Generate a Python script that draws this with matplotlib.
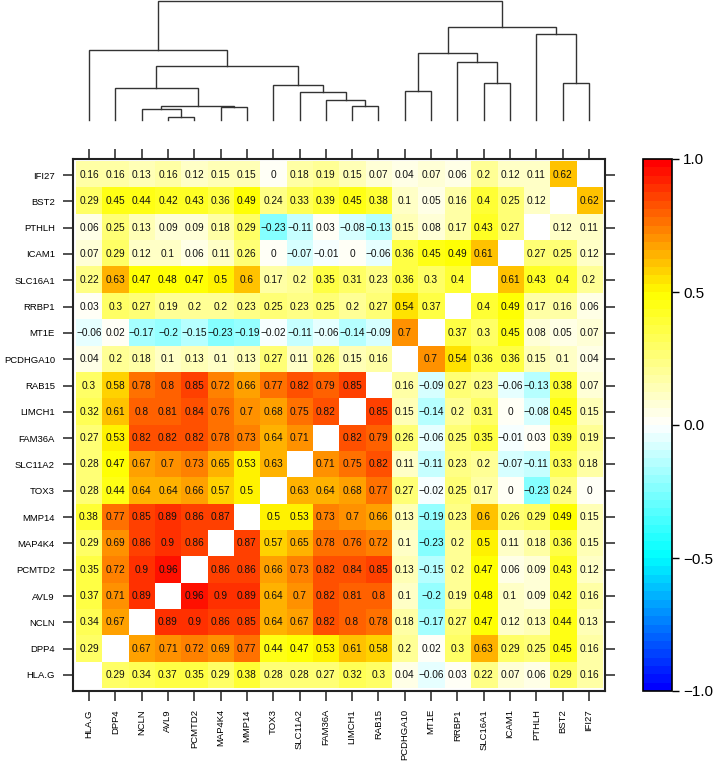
import matplotlib
matplotlib.use("Agg")
import matplotlib.pyplot as plt
import numpy as np
from matplotlib.colors import LinearSegmentedColormap

plt.rcParams['font.family'] = ['Liberation Sans', 'DejaVu Sans']

# column order (left to right); rows are shown in reverse order (top = IFI27)
genes = ['HLA.G', 'DPP4', 'NCLN', 'AVL9', 'PCMTD2', 'MAP4K4', 'MMP14', 'TOX3',
         'SLC11A2', 'FAM36A', 'LIMCH1', 'RAB15', 'PCDHGA10', 'MT1E', 'RRBP1',
         'SLC16A1', 'ICAM1', 'PTHLH', 'BST2', 'IFI27']

na = np.nan
# correlation rows, same order as genes (row i = genes[i])
corr = [
    [na, 0.29, 0.34, 0.37, 0.35, 0.29, 0.38, 0.28, 0.28, 0.27, 0.32, 0.3, 0.04, -0.06, 0.03, 0.22, 0.07, 0.06, 0.29, 0.16],
    [0.29, na, 0.67, 0.71, 0.72, 0.69, 0.77, 0.44, 0.47, 0.53, 0.61, 0.58, 0.2, 0.02, 0.3, 0.63, 0.29, 0.25, 0.45, 0.16],
    [0.34, 0.67, na, 0.89, 0.9, 0.86, 0.85, 0.64, 0.67, 0.82, 0.8, 0.78, 0.18, -0.17, 0.27, 0.47, 0.12, 0.13, 0.44, 0.13],
    [0.37, 0.71, 0.89, na, 0.96, 0.9, 0.89, 0.64, 0.7, 0.82, 0.81, 0.8, 0.1, -0.2, 0.19, 0.48, 0.1, 0.09, 0.42, 0.16],
    [0.35, 0.72, 0.9, 0.96, na, 0.86, 0.86, 0.66, 0.73, 0.82, 0.84, 0.85, 0.13, -0.15, 0.2, 0.47, 0.06, 0.09, 0.43, 0.12],
    [0.29, 0.69, 0.86, 0.9, 0.86, na, 0.87, 0.57, 0.65, 0.78, 0.76, 0.72, 0.1, -0.23, 0.2, 0.5, 0.11, 0.18, 0.36, 0.15],
    [0.38, 0.77, 0.85, 0.89, 0.86, 0.87, na, 0.5, 0.53, 0.73, 0.7, 0.66, 0.13, -0.19, 0.23, 0.6, 0.26, 0.29, 0.49, 0.15],
    [0.28, 0.44, 0.64, 0.64, 0.66, 0.57, 0.5, na, 0.63, 0.64, 0.68, 0.77, 0.27, -0.02, 0.25, 0.17, 0, -0.23, 0.24, 0],
    [0.28, 0.47, 0.67, 0.7, 0.73, 0.65, 0.53, 0.63, na, 0.71, 0.75, 0.82, 0.11, -0.11, 0.23, 0.2, -0.07, -0.11, 0.33, 0.18],
    [0.27, 0.53, 0.82, 0.82, 0.82, 0.78, 0.73, 0.64, 0.71, na, 0.82, 0.79, 0.26, -0.06, 0.25, 0.35, -0.01, 0.03, 0.39, 0.19],
    [0.32, 0.61, 0.8, 0.81, 0.84, 0.76, 0.7, 0.68, 0.75, 0.82, na, 0.85, 0.15, -0.14, 0.2, 0.31, 0, -0.08, 0.45, 0.15],
    [0.3, 0.58, 0.78, 0.8, 0.85, 0.72, 0.66, 0.77, 0.82, 0.79, 0.85, na, 0.16, -0.09, 0.27, 0.23, -0.06, -0.13, 0.38, 0.07],
    [0.04, 0.2, 0.18, 0.1, 0.13, 0.1, 0.13, 0.27, 0.11, 0.26, 0.15, 0.16, na, 0.7, 0.54, 0.36, 0.36, 0.15, 0.1, 0.04],
    [-0.06, 0.02, -0.17, -0.2, -0.15, -0.23, -0.19, -0.02, -0.11, -0.06, -0.14, -0.09, 0.7, na, 0.37, 0.3, 0.45, 0.08, 0.05, 0.07],
    [0.03, 0.3, 0.27, 0.19, 0.2, 0.2, 0.23, 0.25, 0.23, 0.25, 0.2, 0.27, 0.54, 0.37, na, 0.4, 0.49, 0.17, 0.16, 0.06],
    [0.22, 0.63, 0.47, 0.48, 0.47, 0.5, 0.6, 0.17, 0.2, 0.35, 0.31, 0.23, 0.36, 0.3, 0.4, na, 0.61, 0.43, 0.4, 0.2],
    [0.07, 0.29, 0.12, 0.1, 0.06, 0.11, 0.26, 0, -0.07, -0.01, 0, -0.06, 0.36, 0.45, 0.49, 0.61, na, 0.27, 0.25, 0.12],
    [0.06, 0.25, 0.13, 0.09, 0.09, 0.18, 0.29, -0.23, -0.11, 0.03, -0.08, -0.13, 0.15, 0.08, 0.17, 0.43, 0.27, na, 0.12, 0.11],
    [0.29, 0.45, 0.44, 0.42, 0.43, 0.36, 0.49, 0.24, 0.33, 0.39, 0.45, 0.38, 0.1, 0.05, 0.16, 0.4, 0.25, 0.12, na, 0.62],
    [0.16, 0.16, 0.13, 0.16, 0.12, 0.15, 0.15, 0, 0.18, 0.19, 0.15, 0.07, 0.04, 0.07, 0.06, 0.2, 0.12, 0.11, 0.62, na],
]

# column dendrogram merges: (left, right, height); leaves 0..19, new clusters 20..
merges = [
    (3, 4, 10), (2, 20, 32), (5, 6, 38), (21, 22, 43), (1, 23, 97),
    (10, 11, 43), (9, 25, 62), (8, 26, 85), (7, 27, 106), (24, 28, 162),
    (0, 29, 212), (12, 13, 88), (15, 16, 112), (14, 32, 175), (31, 33, 203),
    (18, 19, 112), (17, 35, 259), (34, 36, 280), (30, 37, 360),
]

cbar_ticks = [-1.0, -0.5, 0.0, 0.5, 1.0]

mat = np.array(corr, dtype=float)
n = len(genes)

cmap = LinearSegmentedColormap.from_list(
    'bcwyr', ['#0000ff', '#00ffff', '#ffffff', '#ffff00', '#ff0000'], N=64)

fig = plt.figure(figsize=(7.2, 7.65), dpi=100)
W, H = 720.0, 765.0
hx0, hx1, hy0, hy1 = 73, 605, 159, 691

ax = fig.add_axes([hx0 / W, 1 - hy1 / H, (hx1 - hx0) / W, (hy1 - hy0) / H])
pad = 0.11
im = ax.imshow(mat, cmap=cmap, vmin=-1, vmax=1, origin='lower',
               aspect='auto', interpolation='nearest')
ax.set_xlim(-0.5 - pad, n - 0.5 + pad)
ax.set_ylim(-0.5 - pad, n - 0.5 + pad)

for i in range(n):
    for j in range(n):
        v = mat[i, j]
        if np.isnan(v):
            continue
        s = '{:g}'.format(v).replace('-', '\u2212')
        ax.text(j, i, s, ha='center', va='center', fontsize=7.3, color='#111111')

ax.set_xticks(range(n))
ax.set_yticks(range(n))
ax.set_xticklabels(genes, rotation=90, fontsize=6.8)
ax.set_yticklabels(genes, fontsize=6.8)
ax.tick_params(axis='both', direction='out', length=7, width=1.2,
               top=True, right=True, color='#333333')
ax.tick_params(axis='x', pad=6)
ax.tick_params(axis='y', pad=6)
for sp in ax.spines.values():
    sp.set_linewidth(1.5)
    sp.set_color('#222222')

# dendrogram on top
dx = fig.add_axes([hx0 / W, 1 - 120 / H, (hx1 - hx0) / W, 119 / H])
pos = {i: (float(i), 0.0) for i in range(n)}
for k, (a, b, h) in enumerate(merges):
    xa, ha = pos[a]
    xb, hb = pos[b]
    dx.plot([xa, xa, xb, xb], [ha, h, h, hb], color='#333333', lw=1.0,
            clip_on=False, solid_joinstyle='miter')
    pos[n + k] = ((xa + xb) / 2.0, h)
dx.set_xlim(-0.5 - pad, n - 0.5 + pad)
dx.set_ylim(0, merges[-1][2])
dx.axis('off')

# colour key
cax = fig.add_axes([643 / W, 1 - hy1 / H, 29 / W, (hy1 - hy0) / H])
cb = fig.colorbar(im, cax=cax, ticks=cbar_ticks)
cb.ax.set_yticklabels(['{:.1f}'.format(t).replace('-', '\u2212') for t in cbar_ticks],
                      fontsize=11)
cb.ax.tick_params(length=5, width=1, pad=3)
cb.outline.set_linewidth(1.2)

fig.savefig('out.png', dpi=100)
